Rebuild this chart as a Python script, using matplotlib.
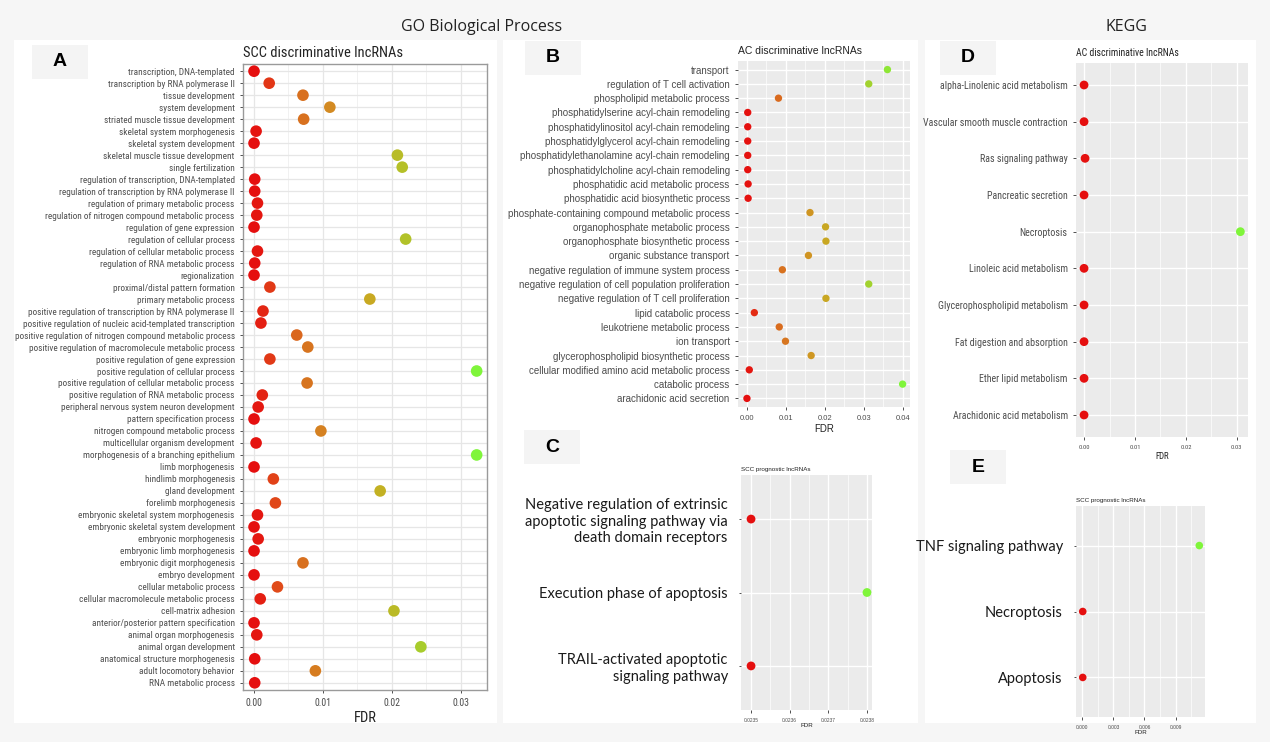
import os
import numpy as np
import matplotlib
matplotlib.use("Agg")
import matplotlib.pyplot as plt
from matplotlib import font_manager as fm
from matplotlib.colors import LinearSegmentedColormap, Normalize
from matplotlib.patches import Rectangle
from matplotlib.ticker import MultipleLocator

# ---- data ----
a_terms = [
    "transcription, DNA-templated", "transcription by RNA polymerase II", "tissue development",
    "system development", "striated muscle tissue development", "skeletal system morphogenesis",
    "skeletal system development", "skeletal muscle tissue development", "single fertilization",
    "regulation of transcription, DNA-templated", "regulation of transcription by RNA polymerase II",
    "regulation of primary metabolic process", "regulation of nitrogen compound metabolic process",
    "regulation of gene expression", "regulation of cellular process",
    "regulation of cellular metabolic process", "regulation of RNA metabolic process",
    "regionalization", "proximal/distal pattern formation", "primary metabolic process",
    "positive regulation of transcription by RNA polymerase II",
    "positive regulation of nucleic acid-templated transcription",
    "positive regulation of nitrogen compound metabolic process",
    "positive regulation of macromolecule metabolic process",
    "positive regulation of gene expression", "positive regulation of cellular process",
    "positive regulation of cellular metabolic process", "positive regulation of RNA metabolic process",
    "peripheral nervous system neuron development", "pattern specification process",
    "nitrogen compound metabolic process", "multicellular organism development",
    "morphogenesis of a branching epithelium", "limb morphogenesis", "hindlimb morphogenesis",
    "gland development", "forelimb morphogenesis", "embryonic skeletal system morphogenesis",
    "embryonic skeletal system development", "embryonic morphogenesis",
    "embryonic limb morphogenesis", "embryonic digit morphogenesis", "embryo development",
    "cellular metabolic process", "cellular macromolecule metabolic process", "cell-matrix adhesion",
    "anterior/posterior pattern specification", "animal organ morphogenesis",
    "animal organ development", "anatomical structure morphogenesis", "adult locomotory behavior",
    "RNA metabolic process",
]
a_fdr = [
    0.0000, 0.0022, 0.0071, 0.0110, 0.0072, 0.0003, 0.0000, 0.0208, 0.0215, 0.0001,
    0.0001, 0.0005, 0.0004, 0.0000, 0.0220, 0.0005, 0.0001, 0.0000, 0.0023, 0.0168,
    0.0013, 0.0010, 0.0062, 0.0078, 0.0023, 0.0323, 0.0077, 0.0012, 0.0006, 0.0000,
    0.0097, 0.0003, 0.0323, 0.0000, 0.0028, 0.0183, 0.0031, 0.0005, 0.0000, 0.0006,
    0.0000, 0.0071, 0.0000, 0.0034, 0.0009, 0.0203, 0.0000, 0.0004, 0.0242, 0.0001,
    0.0089, 0.0001,
]

b_terms = [
    "transport", "regulation of T cell activation", "phospholipid metabolic process",
    "phosphatidylserine acyl-chain remodeling", "phosphatidylinositol acyl-chain remodeling",
    "phosphatidylglycerol acyl-chain remodeling", "phosphatidylethanolamine acyl-chain remodeling",
    "phosphatidylcholine acyl-chain remodeling", "phosphatidic acid metabolic process",
    "phosphatidic acid biosynthetic process", "phosphate-containing compound metabolic process",
    "organophosphate metabolic process", "organophosphate biosynthetic process",
    "organic substance transport", "negative regulation of immune system process",
    "negative regulation of cell population proliferation",
    "negative regulation of T cell proliferation", "lipid catabolic process",
    "leukotriene metabolic process", "ion transport", "glycerophospholipid biosynthetic process",
    "cellular modified amino acid metabolic process", "catabolic process",
    "arachidonic acid secretion",
]
b_fdr = [
    0.0361, 0.0313, 0.0081, 0.0002, 0.0002, 0.0002, 0.0002, 0.0002, 0.0003, 0.0003,
    0.0162, 0.0202, 0.0203, 0.0158, 0.0091, 0.0313, 0.0203, 0.0019, 0.0083, 0.0099,
    0.0165, 0.0006, 0.0400, 0.0000,
]

c_terms = [
    "Negative regulation of extrinsic\napoptotic signaling pathway via\ndeath domain receptors",
    "Execution phase of apoptosis",
    "TRAIL-activated apoptotic\nsignaling pathway",
]
c_fdr = [0.02350, 0.02380, 0.02350]

d_terms = [
    "alpha-Linolenic acid metabolism", "Vascular smooth muscle contraction",
    "Ras signaling pathway", "Pancreatic secretion", "Necroptosis", "Linoleic acid metabolism",
    "Glycerophospholipid metabolism", "Fat digestion and absorption", "Ether lipid metabolism",
    "Arachidonic acid metabolism",
]
d_fdr = [0.0000, 0.0000, 0.0002, 0.0000, 0.0307, 0.0000, 0.0000, 0.0000, 0.0000, 0.0000]

e_terms = ["TNF signaling pathway", "Necroptosis", "Apoptosis"]
e_fdr = [0.01129, 0.00004, 0.00004]

# ---- styling ----
W, H = 1270, 742
arial = ["Liberation Sans", "DejaVu Sans"]
big = ["Lato", "DejaVu Sans"]
txt_col = "#4d4d4d"

cmap = LinearSegmentedColormap.from_list("fdr", [
    (0.0, "#e50f0f"), (0.1, "#e04a1a"), (0.22, "#d8701f"), (0.35, "#d38c22"),
    (0.55, "#c6ae22"), (0.75, "#a8cc2c"), (1.0, "#7ff53a")])


# look for a narrow sans font (the figure uses Arial Narrow style labels)
def find_narrow():
    prefs = ["liberationsansnarrow-regular", "arialn", "robotocondensed-regular",
             "dejavusanscondensed.", "notosans-condensed.", "notosans-condensedregular",
             "opensans-condensed", "opensans_condensed-regular", "lato-condensed"]
    skip = ["bold", "italic", "oblique", "light", "medium", "semi", "black", "thin", "extra"]
    files = {}
    for f in fm.fontManager.ttflist:
        fn = os.path.basename(f.fname).lower()
        if any(s in fn for s in skip):
            continue
        files[fn] = f.fname
    for p in prefs:
        for fn, path in files.items():
            if fn.startswith(p):
                return path
    for fn, path in files.items():
        if ("narrow" in fn or "condensed" in fn) and "mono" not in fn:
            return path
    return None


narrow_path = find_narrow()


def narrow_fp(size):
    if narrow_path:
        return fm.FontProperties(fname=narrow_path, size=size)
    return fm.FontProperties(family="Liberation Sans", size=size)


def fit_size(fig, text, target_px, max_size):
    r = fig.canvas.get_renderer()
    t = fig.text(0, 0, text, fontproperties=narrow_fp(10))
    w = t.get_window_extent(r).width
    t.remove()
    return min(max_size, 10 * target_px / w)


def px_axes(fig, left, top, right, bottom):
    return fig.add_axes([left / W, 1 - bottom / H, (right - left) / W, (bottom - top) / H])


def dot_panel(ax, terms, vals, xlim, major, minor, size, bw=False):
    n = len(terms)
    y = np.arange(n)[::-1]
    norm = Normalize(min(vals), max(vals))
    ax.scatter(vals, y, s=size, c=[cmap(norm(v)) for v in vals], zorder=3, linewidths=0)
    ax.set_xlim(*xlim)
    ax.set_ylim(-0.6, n - 0.4)
    ax.set_yticks(y)
    ax.set_yticklabels(terms)
    ax.xaxis.set_major_locator(MultipleLocator(major))
    ax.xaxis.set_minor_locator(MultipleLocator(minor))
    ax.tick_params(axis="x", which="minor", length=0)
    ax.set_axisbelow(True)
    if bw:
        ax.set_facecolor("white")
        ax.grid(True, which="major", color="#e6e6e6", lw=0.9)
        ax.grid(True, which="minor", axis="x", color="#efefef", lw=0.6)
        for s in ax.spines.values():
            s.set_color("#9a9a9a")
            s.set_linewidth(1.0)
    else:
        ax.set_facecolor("#ebebeb")
        ax.grid(True, which="major", color="white", lw=1.0)
        ax.grid(True, which="minor", axis="x", color="white", lw=0.5)
        for s in ax.spines.values():
            s.set_visible(False)
    ax.tick_params(colors="#333333", length=2.5, width=0.6, labelcolor=txt_col)


def style_labels(labels, fp, color=None):
    for lab in labels:
        lab.set_fontproperties(fp)
        if color:
            lab.set_color(color)


fig = plt.figure(figsize=(W / 100, H / 100), dpi=100, facecolor="#f6f6f6")

# white panel backgrounds and letter boxes
for l, t, r, b in [(14, 40, 497, 723), (503, 40, 918, 723), (925, 40, 1256, 723)]:
    fig.add_artist(Rectangle((l / W, 1 - b / H), (r - l) / W, (b - t) / H,
                             transform=fig.transFigure, fc="white", ec="none", zorder=-5))
for letter, cx, cy in [("A", 60, 62), ("B", 553, 58), ("C", 552, 447), ("D", 968, 58), ("E", 978, 467)]:
    fig.add_artist(Rectangle(((cx - 28) / W, 1 - (cy + 17) / H), 56 / W, 34 / H,
                             transform=fig.transFigure, fc="#f4f4f4", ec="none", zorder=-4))
    fig.text(cx / W, 1 - cy / H, letter, ha="center", va="center", fontsize=14,
             fontweight="bold", family=arial, color="black")

fig.text(482 / W, 1 - 27 / H, "GO Biological Process", ha="center", va="center",
         fontsize=11.5, family=["Open Sans", "DejaVu Sans"], color="#222222")
fig.text(1126 / W, 1 - 27 / H, "KEGG", ha="center", va="center",
         fontsize=11.5, family=["Open Sans", "DejaVu Sans"], color="#222222")

# A
ax = px_axes(fig, 243, 64, 487, 690)
dot_panel(ax, a_terms, a_fdr, (-0.0016, 0.0338), 0.01, 0.005, 70, bw=True)
ax.set_xticks([0.0, 0.01, 0.02, 0.03])
ax.set_xticklabels(["0.00", "0.01", "0.02", "0.03"])
sa = fit_size(fig, "positive regulation of nitrogen compound metabolic process", 219, 10.0)
style_labels(ax.get_yticklabels(), narrow_fp(sa))
style_labels(ax.get_xticklabels(), narrow_fp(sa * 1.05))
st = fit_size(fig, "SCC discriminative lncRNAs", 159, 14)
ax.set_title("SCC discriminative lncRNAs", loc="left", fontproperties=narrow_fp(st), pad=5, color="#222222")
ax.set_xlabel("FDR", fontproperties=narrow_fp(st), labelpad=2, color="#222222")

# B
ax = px_axes(fig, 738, 61, 910, 407)
dot_panel(ax, b_terms, b_fdr, (-0.0023, 0.0419), 0.01, 0.005, 28)
ax.set_xticks([0.0, 0.01, 0.02, 0.03, 0.04])
ax.set_xticklabels(["0.00", "0.01", "0.02", "0.03", "0.04"])
style_labels(ax.get_yticklabels(), fm.FontProperties(family=arial, size=7))
style_labels(ax.get_xticklabels(), fm.FontProperties(family=arial, size=5.5))
ax.set_title("AC discriminative lncRNAs", loc="left", fontsize=7.5, family=arial, pad=5, color="#222222")
ax.set_xlabel("FDR", fontsize=7, family=arial, labelpad=1, color="#222222")

# C
ax = px_axes(fig, 741, 475, 872, 710)
dot_panel(ax, c_terms, c_fdr, (0.023474, 0.023813), 0.0001, 0.00005, 40)
ax.set_xticks([0.0235, 0.0236, 0.0237, 0.0238])
ax.set_xticklabels(["0.0235", "0.0236", "0.0237", "0.0238"])
style_labels(ax.get_yticklabels(), fm.FontProperties(family=big, size=10.5), "#1a1a1a")
for lab in ax.get_yticklabels():
    lab.set_multialignment("right")
style_labels(ax.get_xticklabels(), fm.FontProperties(family=arial, size=3.5))
ax.tick_params(axis="y", length=1.5, pad=8)
ax.set_title("SCC prognostic lncRNAs", loc="left", fontsize=4.5, family=arial, pad=3, color="#222222")
ax.set_xlabel("FDR", fontsize=4.5, family=arial, labelpad=0, color="#222222")

# D
ax = px_axes(fig, 1076, 63, 1248, 437)
dot_panel(ax, d_terms, d_fdr, (-0.00158, 0.0322), 0.01, 0.005, 40)
ax.set_xticks([0.0, 0.01, 0.02, 0.03])
ax.set_xticklabels(["0.00", "0.01", "0.02", "0.03"])
sd = fit_size(fig, "Vascular smooth muscle contraction", 144, 10.5)
style_labels(ax.get_yticklabels(), narrow_fp(sd))
style_labels(ax.get_xticklabels(), narrow_fp(sd * 0.65))
sdt = fit_size(fig, "AC discriminative lncRNAs", 102, 9.5)
ax.set_title("AC discriminative lncRNAs", loc="left", fontproperties=narrow_fp(sdt), pad=5, color="#222222")
ax.set_xlabel("FDR", fontproperties=narrow_fp(sdt * 0.9), labelpad=1, color="#222222")

# E
ax = px_axes(fig, 1076, 506, 1205, 717)
dot_panel(ax, e_terms, e_fdr, (-0.00061, 0.01184), 0.003, 0.0015, 30)
ax.set_xticks([0.0, 0.003, 0.006, 0.009])
ax.set_xticklabels(["0.000", "0.003", "0.006", "0.009"])
style_labels(ax.get_yticklabels(), fm.FontProperties(family=big, size=10.5), "#1a1a1a")
style_labels(ax.get_xticklabels(), fm.FontProperties(family=arial, size=3.5))
ax.tick_params(axis="y", length=1.5, pad=8)
ax.set_title("SCC prognostic lncRNAs", loc="left", fontsize=4.5, family=arial, pad=3, color="#222222")
ax.set_xlabel("FDR", fontsize=4.5, family=arial, labelpad=0, color="#222222")

fig.savefig("out.png", dpi=100, facecolor=fig.get_facecolor())
